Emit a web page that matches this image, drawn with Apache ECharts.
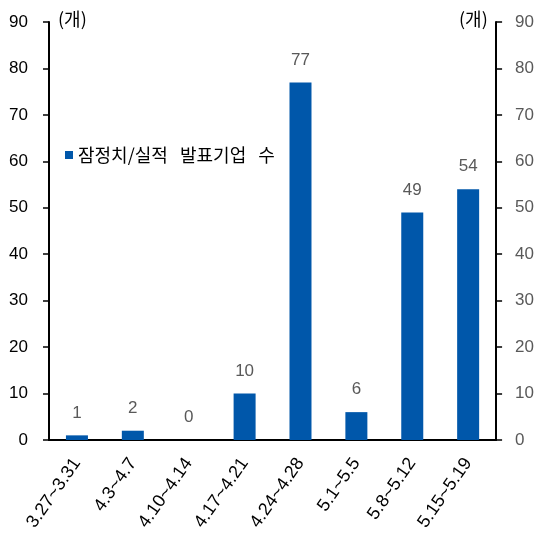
<!DOCTYPE html>
<html>
<head>
<meta charset="utf-8">
<script src="https://cdn.jsdelivr.net/npm/echarts@6/dist/echarts.min.js"></script>
<style>
  html, body { margin: 0; padding: 0; background: #fff; }
  #chart { width: 537px; height: 543px; }
</style>
</head>
<body>
<div id="chart"></div>
<script>
// 주간 잠정치/실적 발표기업 수
const categories = ['3.27~3.31', '4.3~4.7', '4.10~4.14', '4.17~4.21', '4.24~4.28', '5.1~5.5', '5.8~5.12', '5.15~5.19'];
const counts = [1, 2, 0, 10, 77, 6, 49, 54];
const seriesName = '잠정치/실적 발표기업 수';
const unitLabel = '(개)';

const chart = echarts.init(document.getElementById('chart'));
const font = 'Liberation Sans, Arial, Noto Sans CJK KR, sans-serif';

const yAxisBase = {
  type: 'value',
  min: 0,
  max: 90,
  interval: 10,
  splitLine: { show: false },
  axisLine: { show: true, lineStyle: { color: '#000', width: 2 } },
  axisTick: { show: true, length: 6, lineStyle: { color: '#000', width: 1.5 } }
};

chart.setOption({
  animation: false,
  textStyle: { fontFamily: font },
  grid: { left: 49, right: 37, top: 22, bottom: 103 },
  legend: {
    left: 60,
    top: 141,
    icon: 'rect',
    itemWidth: 8,
    itemHeight: 8,
    itemGap: 4,
    formatter: name => name.replace(/ /g, '   '),
    textStyle: { fontSize: 18, color: '#000', fontFamily: 'Noto Sans CJK KR' },
    data: [seriesName]
  },
  xAxis: {
    type: 'category',
    data: categories,
    axisLine: { lineStyle: { color: '#000', width: 2 } },
    axisTick: { show: false },
    axisLabel: { rotate: 55, fontSize: 18, color: '#000', margin: 20, interval: 0 }
  },
  yAxis: [
    Object.assign({}, yAxisBase, {
      position: 'left',
      axisLabel: { fontSize: 17, color: '#000', margin: 21 }
    }),
    Object.assign({}, yAxisBase, {
      position: 'right',
      axisLabel: { fontSize: 17, color: '#595959', margin: 19 }
    })
  ],
  graphic: [
    { type: 'text', left: 58, top: 10, style: { text: unitLabel, fontSize: 18, fill: '#000', fontFamily: 'Noto Sans CJK KR' } },
    { type: 'text', left: 459, top: 10, style: { text: unitLabel, fontSize: 18, fill: '#000', fontFamily: 'Noto Sans CJK KR' } }
  ],
  series: [{
    name: seriesName,
    type: 'bar',
    data: counts,
    barWidth: 22,
    itemStyle: { color: '#0057AA' },
    label: { show: true, position: 'top', distance: 14, fontSize: 17, color: '#595959' }
  }]
});
</script>
</body>
</html>
